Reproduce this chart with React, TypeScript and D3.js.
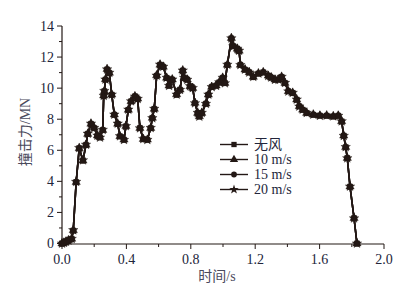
import React from "react";
import * as d3 from "d3";

const times = [0.000,0.012,0.025,0.040,0.060,0.070,0.088,0.107,0.130,0.149,0.160,0.180,0.200,0.220,0.236,0.253,0.259,0.263,0.270,0.280,0.294,0.309,0.325,0.346,0.360,0.385,0.397,0.412,0.429,0.453,0.470,0.484,0.505,0.530,0.551,0.561,0.573,0.588,0.609,0.629,0.650,0.665,0.685,0.712,0.733,0.750,0.758,0.778,0.795,0.812,0.826,0.843,0.853,0.868,0.894,0.909,0.930,0.957,0.977,0.998,1.012,1.027,1.052,1.064,1.089,1.100,1.108,1.137,1.163,1.188,1.220,1.250,1.281,1.300,1.323,1.345,1.364,1.385,1.406,1.433,1.458,1.474,1.495,1.520,1.561,1.602,1.644,1.685,1.716,1.737,1.750,1.762,1.772,1.789,1.814,1.832];

const windNone = [0.00,0.05,0.12,0.20,0.30,0.83,3.95,6.14,5.35,6.35,7.06,7.70,7.43,6.94,6.83,7.30,9.50,9.80,10.55,11.20,10.98,9.58,8.29,7.70,6.90,6.68,7.54,8.60,9.15,9.47,9.30,7.43,6.72,6.68,7.43,8.08,8.66,10.80,11.50,11.37,10.66,10.16,10.55,9.58,9.90,11.13,10.66,10.55,10.12,10.00,9.04,8.40,8.18,8.40,9.00,9.58,10.08,10.16,10.37,10.66,10.33,11.50,13.20,12.70,12.53,12.40,11.50,11.19,11.02,10.72,10.94,11.02,10.80,10.68,10.55,10.55,10.72,10.33,9.80,9.69,9.26,8.83,8.61,8.40,8.29,8.23,8.23,8.18,8.23,7.86,6.94,6.20,5.50,3.66,1.63,0.00];
const wind10 = [0.00,0.05,0.12,0.20,0.30,0.85,3.95,6.12,5.33,6.35,7.05,7.70,7.45,6.95,6.83,7.30,9.52,9.80,10.57,11.22,10.98,9.58,8.30,7.70,6.90,6.68,7.55,8.60,9.15,9.47,9.32,7.43,6.72,6.68,7.43,8.08,8.66,10.82,11.50,11.37,10.66,10.16,10.55,9.60,9.90,11.13,10.66,10.55,10.12,10.00,9.05,8.40,8.18,8.40,9.00,9.58,10.08,10.16,10.37,10.66,10.33,11.50,13.22,12.70,12.53,12.40,11.50,11.19,11.02,10.72,10.94,11.02,10.80,10.68,10.55,10.55,10.72,10.33,9.80,9.69,9.26,8.83,8.61,8.40,8.29,8.23,8.23,8.18,8.23,7.86,6.94,6.20,5.50,3.66,1.63,0.00];
const wind15 = [0.00,0.05,0.12,0.20,0.30,0.84,3.96,6.13,5.34,6.34,7.06,7.71,7.43,6.94,6.84,7.31,9.50,9.81,10.55,11.20,10.97,9.58,8.29,7.71,6.90,6.69,7.54,8.61,9.15,9.48,9.30,7.44,6.72,6.68,7.43,8.09,8.66,10.80,11.51,11.37,10.66,10.17,10.55,9.58,9.91,11.13,10.66,10.56,10.12,10.00,9.04,8.41,8.18,8.40,9.01,9.58,10.08,10.17,10.37,10.66,10.34,11.50,13.20,12.71,12.53,12.40,11.51,11.19,11.03,10.72,10.94,11.02,10.81,10.68,10.55,10.56,10.72,10.33,9.81,9.69,9.26,8.84,8.61,8.40,8.29,8.24,8.23,8.18,8.23,7.86,6.95,6.20,5.51,3.66,1.64,0.00];
const wind20 = [0.00,0.05,0.12,0.20,0.30,0.86,3.97,6.15,5.36,6.36,7.07,7.72,7.44,6.95,6.82,7.32,9.51,9.82,10.56,11.21,10.99,9.59,8.30,7.72,6.91,6.67,7.56,8.62,9.16,9.46,9.31,7.42,6.73,6.67,7.44,8.07,8.67,10.81,11.52,11.38,10.67,10.15,10.56,9.59,9.89,11.14,10.67,10.54,10.13,10.01,9.03,8.41,8.17,8.41,8.99,9.59,10.07,10.15,10.38,10.67,10.32,11.51,13.21,12.69,12.54,12.41,11.49,11.20,11.01,10.73,10.95,11.01,10.79,10.69,10.54,10.54,10.73,10.34,9.79,9.70,9.27,8.82,8.62,8.41,8.30,8.22,8.24,8.19,8.22,7.87,6.93,6.21,5.49,3.67,1.62,0.00];

const seriesNames = ["无风", "10 m/s", "15 m/s", "20 m/s"];
const seriesValues = [windNone, wind10, wind15, wind20];
const xTicks = [0, 0.4, 0.8, 1.2, 1.6, 2.0];
const yTicks = [0, 2, 4, 6, 8, 10, 12, 14];

const INK = "#231815";
const TXT = "#22253a";
const FONT = "'Liberation Serif', 'Times New Roman', 'Noto Sans CJK SC', serif";

const symbols = [
  d3.symbol().type(d3.symbolSquare).size(28),
  d3.symbol().type(d3.symbolTriangle).size(30),
  d3.symbol().type(d3.symbolCircle).size(26),
  d3.symbol().type(d3.symbolStar).size(28),
];

export default function App() {
  const x = d3.scaleLinear().domain([0, 2]).range([62, 384]);
  const y = d3.scaleLinear().domain([0, 14]).range([243.5, 26]);
  const line = d3
    .line<number>()
    .x((_, i) => x(times[i]))
    .y((v) => y(v));
  const xMinor = d3.range(0, 2.0001, 0.2).filter((v) => !xTicks.some((t) => Math.abs(t - v) < 1e-6));
  const yMinor = d3.range(1, 14, 2);
  const x0 = 62;
  const yBase = 244;

  return (
    <svg
      width={411}
      height={290}
      style={{ position: "absolute", left: 0, top: 0, background: "#fff" }}
      fontFamily={FONT}
    >
      <rect x={0} y={0} width={411} height={290} fill="#fff" />
      <line x1={x0} x2={x0} y1={y(14)} y2={yBase} stroke={INK} strokeWidth={1.2} />
      <line x1={x0} x2={x(2)} y1={yBase} y2={yBase} stroke={INK} strokeWidth={1.2} />
      {yTicks.map((t) => (
        <g key={"yt" + t}>
          <line x1={x0 - 5} x2={x0} y1={y(t)} y2={y(t)} stroke={INK} strokeWidth={1} />
          <text x={54} y={y(t)} dy="0.35em" textAnchor="end" fontSize={14} fill={TXT}>
            {t}
          </text>
        </g>
      ))}
      {yMinor.map((t) => (
        <line key={"ym" + t} x1={x0 - 3} x2={x0} y1={y(t)} y2={y(t)} stroke={INK} strokeWidth={1} />
      ))}
      {xTicks.map((t) => (
        <g key={"xt" + t}>
          <line x1={x(t)} x2={x(t)} y1={yBase} y2={yBase + 5} stroke={INK} strokeWidth={1} />
          <text x={x(t)} y={264} textAnchor="middle" fontSize={14} fill={TXT}>
            {t.toFixed(1)}
          </text>
        </g>
      ))}
      {xMinor.map((t) => (
        <line key={"xm" + t} x1={x(t)} x2={x(t)} y1={yBase} y2={yBase + 3} stroke={INK} strokeWidth={1} />
      ))}
      <text x={217} y={281} textAnchor="middle" fontSize={14} fill="#4a4a5c">
        时间/s
      </text>
      <text
        transform={`translate(30,132) rotate(-90)`}
        textAnchor="middle"
        fontSize={14}
        fill="#4a4a5c"
      >
        撞击力/MN
      </text>
      {seriesValues.map((vals, si) => (
        <g key={"s" + si}>
          <path d={line(vals) || ""} fill="none" stroke={INK} strokeWidth={1.6} />
          {vals.map((v, i) => (
            <path
              key={i}
              d={symbols[si]() || ""}
              transform={`translate(${x(times[i])},${y(v)})`}
              fill={INK}
              stroke={INK}
              strokeWidth={0.4}
            />
          ))}
        </g>
      ))}
      {seriesNames.map((name, i) => {
        const ly = 144.5 + i * 15;
        return (
          <g key={"lg" + i}>
            <line x1={220} x2={248} y1={ly} y2={ly} stroke={INK} strokeWidth={1.4} />
            <path d={symbols[i]() || ""} transform={`translate(234,${ly})`} fill={INK} />
            <text x={254} y={ly} dy="0.35em" fontSize={14} fill={TXT}>
              {name}
            </text>
          </g>
        );
      })}
    </svg>
  );
}
